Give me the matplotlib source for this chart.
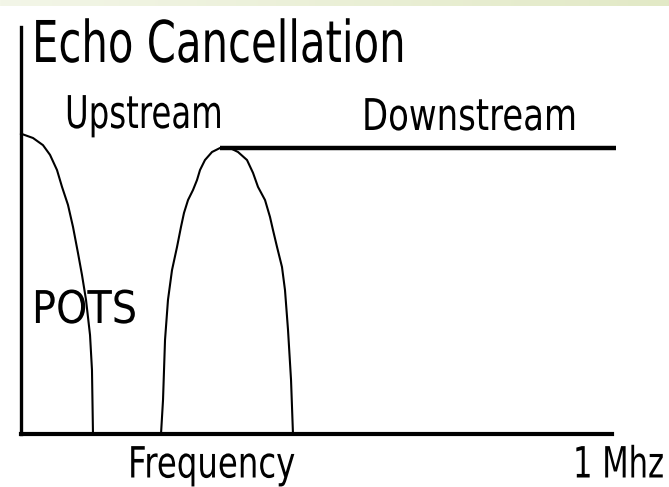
"""Echo cancellation spectrum sketch: upstream/downstream bands over POTS."""

import matplotlib
matplotlib.use("Agg")
import matplotlib.pyplot as plt
import numpy as np
from matplotlib.colors import LinearSegmentedColormap
from matplotlib.patheffects import AbstractPathEffect
from matplotlib.transforms import Affine2D

# ── 数据（kHz, 相对电平）────────────────────────────────────────────────
pots_freq = [0, 20.3, 37.2, 49.1, 60.9, 69.4, 79.5, 88.0, 96.4, 103.2,
             110.0, 116.8, 120.1, 121.8]
pots_level = [1.05, 1.035, 1.01, 0.976, 0.923, 0.864, 0.801, 0.724, 0.633,
              0.556, 0.469, 0.346, 0.224, 0.0]

upstream_freq = [236.9, 240.3, 243.7, 248.7, 255.5, 264.0, 270.7, 275.8,
                 282.6, 291.0, 297.8, 302.9, 311.3, 323.2, 336.7, 353.6,
                 367.2, 382.4, 392.6, 401.0, 412.9, 421.3, 426.4, 433.2,
                 441.6, 446.7, 451.8, 456.9, 460.2]
upstream_level = [0.0, 0.119, 0.329, 0.469, 0.573, 0.654, 0.724, 0.773,
                  0.818, 0.853, 0.888, 0.923, 0.958, 0.986, 1.0, 1.0,
                  0.986, 0.958, 0.913, 0.864, 0.818, 0.759, 0.713, 0.654,
                  0.584, 0.503, 0.364, 0.189, 0.0]

downstream_freq = [336.7, 1006.8]
downstream_level = [1.0, 1.0]

title = "Echo Cancellation"
band_labels = ["Upstream", "Downstream", "POTS"]
x_label = "Frequency"
x_end_label = "1 Mhz"

W, H = 669, 487


class Squeeze(AbstractPathEffect):
    """水平压缩文字（模拟窄体字形），以锚点为中心。"""

    def __init__(self, text, sx):
        super().__init__()
        self.text = text
        self.sx = sx

    def draw_path(self, renderer, gc, tpath, affine, rgbFace=None):
        ox = self.text.get_transform().transform(
            self.text.get_unitless_position())[0]
        squeeze = Affine2D().translate(-ox, 0).scale(self.sx, 1).translate(ox, 0)
        renderer.draw_path(gc, tpath, affine + squeeze, rgbFace)


fig = plt.figure(figsize=(W / 100, H / 100), dpi=100)
fig.patch.set_facecolor("white")
renderer = fig.canvas.get_renderer()

# ── 顶部浅绿色渐变条 ──────────────────────────────────────────────────────
strip = fig.add_axes([0, 1 - 6 / H, 1, 6 / H])
cmap = LinearSegmentedColormap.from_list("strip", ["#f3f6e8", "#e2e9c6"])
strip.imshow(np.linspace(0, 1, 256)[None, :], aspect="auto", cmap=cmap)
strip.axis("off")

# ── 主坐标轴 ──────────────────────────────────────────────────────────────
x0, x1 = 21, 612
y_top, y_bot = 27, 434
ax = fig.add_axes([x0 / W, 1 - y_bot / H, (x1 - x0) / W, (y_bot - y_top) / H])
ax.set_xlim(0, 1000)
ax.set_ylim(0, (y_bot - y_top) / (y_bot - 148))
for side in ("top", "right"):
    ax.spines[side].set_visible(False)
ax.spines["left"].set_linewidth(2.4)
ax.spines["bottom"].set_linewidth(3.0)
ax.set_xticks([])
ax.set_yticks([])
ax.patch.set_alpha(0)

ax.plot(pots_freq, pots_level, color="black", lw=1.5, clip_on=False)
ax.plot(upstream_freq, upstream_level, color="black", lw=1.5, clip_on=False)
ax.plot(downstream_freq, downstream_level, color="black", lw=3.2,
        clip_on=False, solid_capstyle="butt")


# ── 文字 ──────────────────────────────────────────────────────────────────
def put(text, left, right, ypos, size, ha="left", va="baseline"):
    anchor = {"left": left, "center": (left + right) / 2, "right": right}[ha]
    t = fig.text(anchor / W, 1 - ypos / H, text, fontsize=size,
                 family="DejaVu Sans", ha=ha, va=va, color="black")
    width = t.get_window_extent(renderer).width
    t.set_path_effects([Squeeze(t, (right - left) / width)])
    return t


put(title, 32, 405, 62, 41.5)
put(band_labels[0], 65, 223, 128, 32.5, ha="center")
put(band_labels[1], 362, 577, 130, 31.5, ha="center")
put(band_labels[2], 32, 137, 323, 32.5)
# 底部文字贴近画布下缘：按包围盒底部定位，避免被裁切
put(x_label, 128, 295, 486.5, 31, ha="center", va="bottom")
put(x_end_label, 573, 664, 486.5, 31, ha="right", va="bottom")

fig.savefig("out.png", dpi=100, facecolor="white")
